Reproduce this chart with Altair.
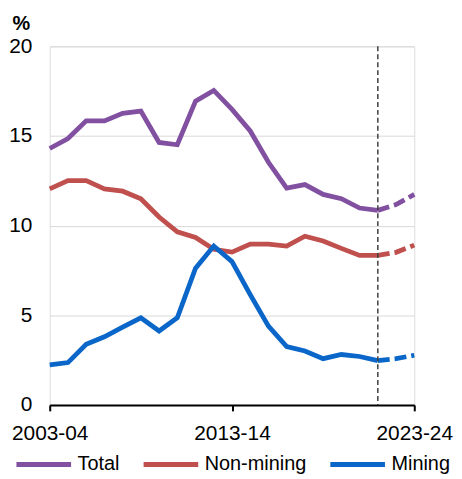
import altair as alt
import pandas as pd

years = ["2003-04", "2004-05", "2005-06", "2006-07", "2007-08", "2008-09", "2009-10",
         "2010-11", "2011-12", "2012-13", "2013-14", "2014-15", "2015-16", "2016-17",
         "2017-18", "2018-19", "2019-20", "2020-21", "2021-22", "2022-23", "2023-24"]
total = [14.30, 14.86, 15.84, 15.84, 16.26, 16.39, 14.64, 14.51, 16.94, 17.54, 16.48,
         15.28, 13.53, 12.09, 12.29, 11.74, 11.50, 10.98, 10.85, 11.17, 11.74]
non_mining = [12.05, 12.51, 12.51, 12.05, 11.92, 11.50, 10.48, 9.65, 9.34, 8.68, 8.52,
              8.97, 8.97, 8.86, 9.41, 9.14, 8.73, 8.34, 8.34, 8.51, 8.91]
mining = [2.23, 2.36, 3.38, 3.80, 4.34, 4.86, 4.12, 4.86, 7.62, 8.86, 7.99,
          6.15, 4.39, 3.25, 3.01, 2.58, 2.81, 2.70, 2.47, 2.58, 2.77]
series_names = ["Total", "Non-mining", "Mining"]
series_colors = ["#8250A0", "#C0504D", "#0A66C8"]
forecast_start = "2021-22"
tick_labels = ["2003-04", "2013-14", "2023-24"]

rows = []
start_idx = years.index(forecast_start)
for name, vals in zip(series_names, [total, non_mining, mining]):
    for i, (yr, v) in enumerate(zip(years, vals)):
        if i <= start_idx:
            rows.append({"year": yr, "value": v, "series": name, "part": "actual"})
        if i >= start_idx:
            rows.append({"year": yr, "value": v, "series": name, "part": "forecast"})
df = pd.DataFrame(rows)

FONT = "Liberation Sans"

x_enc = alt.X("year:O", sort=years,
              scale=alt.Scale(type="point", padding=0),
              axis=alt.Axis(values=tick_labels, title=None, labelAngle=0,
                            labelFontSize=21, labelColor="black", labelFont=FONT,
                            domainColor="black", domainWidth=2, tickColor="black",
                            tickWidth=2, tickSize=6, labelPadding=12, grid=False,
                            labelOverlap=False, labelFlush=False))
y_enc = alt.Y("value:Q",
              scale=alt.Scale(domain=[0, 20], nice=False),
              axis=alt.Axis(values=[0, 5, 10, 15, 20], title="%", titleAngle=0,
                            titleAlign="left", titleBaseline="alphabetic",
                            titleX=-38, titleY=-17, titleFontSize=20,
                            titleFontWeight="bold", titleFont=FONT, titleColor="black",
                            labelFontSize=21, labelFont=FONT, labelColor="black",
                            labelPadding=18, domain=False, ticks=False,
                            grid=True, gridColor="#d9d9d9", gridWidth=1))
color_enc = alt.Color("series:N", sort=series_names,
                      scale=alt.Scale(domain=series_names, range=series_colors),
                      legend=alt.Legend(title=None, orient="none", direction="horizontal",
                                        legendX=-36, legendY=391,
                                        symbolType="stroke", symbolSize=3025,
                                        symbolStrokeWidth=5, labelFontSize=20,
                                        labelFont=FONT, labelColor="black",
                                        labelOffset=4, columnPadding=13))

base = alt.Chart(df)
solid = base.transform_filter(alt.datum.part == "actual").mark_line(
    strokeWidth=4.8, strokeJoin="miter").encode(x=x_enc, y=y_enc, color=color_enc,
                                               detail="series:N")
dashed = base.transform_filter(alt.datum.part == "forecast").mark_line(
    strokeWidth=4.8, strokeDash=[12, 5]).encode(x=x_enc, y=y_enc,
                                                color=alt.Color("series:N", legend=None),
                                                detail="series:N")
vline_df = pd.DataFrame({"year": [forecast_start], "top": [20], "bottom": [0]})
vline = alt.Chart(vline_df).mark_rule(color="#404040", strokeWidth=1.5,
                                      strokeDash=[5, 3]).encode(
    x=alt.X("year:O", sort=years), y="top:Q", y2="bottom:Q")

chart = alt.layer(solid, dashed, vline).properties(
    width=367, height=361,
    autosize=alt.AutoSizeParams(type="none"),
    padding={"left": 42, "top": 37, "right": 40, "bottom": 70},
).configure_view(stroke=None).configure(background="white")

chart.save("out.html", embed_options={"renderer": "svg", "actions": False})
